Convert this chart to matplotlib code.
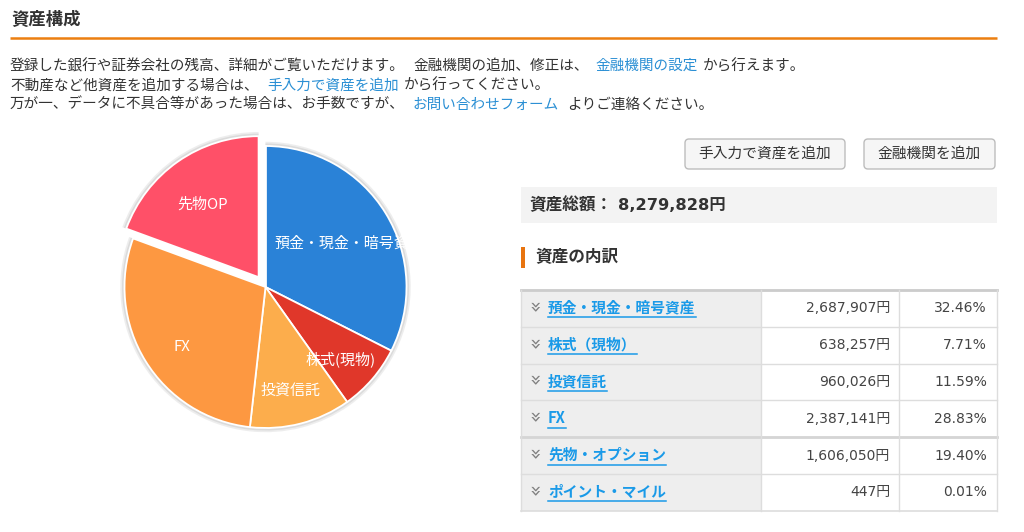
import matplotlib
matplotlib.use('Agg')
import matplotlib.pyplot as plt
from matplotlib.patches import Rectangle, FancyBboxPatch
import matplotlib.transforms as mtransforms

plt.rcParams['font.family'] = ['Noto Sans CJK JP', 'DejaVu Sans']
NUMFONT = ['DejaVu Sans', 'Noto Sans CJK JP']

# ---------------- data ----------------
title = '資産構成'
categories = ['預金・現金・暗号資産', '株式（現物）', '投資信託', 'FX', '先物・オプション', 'ポイント・マイル']
pie_labels = ['預金・現金・暗号資産', '株式(現物)', '投資信託', 'FX', '先物OP', '']
amounts = [2687907, 638257, 960026, 2387141, 1606050, 447]
slice_colors = ['#2a82d7', '#e0372a', '#fcad4c', '#fd9841', '#ff5068', '#9b59b6']
explode = [0, 0, 0, 0, 0.085, 0]
buttons = ['手入力で資産を追加', '金融機関を追加']
total_label = '資産総額：'
breakdown_title = '資産の内訳'
intro = [
    [('登録した銀行や証券会社の残高、詳細がご覧いただけます。', False, 10),
     ('金融機関の追加、修正は、', False, 413),
     ('金融機関の設定', True, 596),
     ('から行えます。', False, 703)],
    [('不動産など他資産を追加する場合は、', False, 10),
     ('手入力で資産を追加', True, 267),
     ('から行ってください。', False, 404)],
    [('万が一、データに不具合等があった場合は、お手数ですが、', False, 10),
     ('お問い合わせフォーム', True, 413),
     ('よりご連絡ください。', False, 567)],
]

total = sum(amounts)

W, H = 1024, 532
fig = plt.figure(figsize=(W / 100, H / 100), dpi=100)
fig.patch.set_facecolor('white')

bg = fig.add_axes([0, 0, 1, 1])
bg.set_xlim(0, W)
bg.set_ylim(H, 0)
bg.axis('off')

TXT = '#333333'
LINK = '#2a8fd4'

# title + orange rule
bg.text(11, 20, title, fontsize=12.5, fontweight='bold', color='#333333', va='center', ha='left')
bg.plot([10, 997], [37.5, 37.5], color='#ec7f10', lw=1.8, solid_capstyle='butt')

# intro lines
for i, line in enumerate(intro):
    y = 66 + i * 19.3
    for seg, is_link, x in line:
        bg.text(x, y, seg, fontsize=10.5, color=LINK if is_link else TXT, va='center', ha='left')

# buttons
btn_boxes = [(685, 139, 160, 30), (864, 139, 131, 30)]
for label, (x, y, w, h) in zip(buttons, btn_boxes):
    bg.add_patch(FancyBboxPatch((x, y), w, h, boxstyle='round,pad=0,rounding_size=4',
                                facecolor='#f6f6f6', edgecolor='#bdbdbd', lw=1))
    bg.text(x + w / 2, y + h / 2, label, fontsize=10.6, color='#333333', ha='center', va='center')

# total box
bg.add_patch(Rectangle((521, 187), 476, 36, facecolor='#f3f3f3', edgecolor='none'))
t_lab = bg.text(529, 205.5, total_label, fontsize=12, fontweight='bold', color='#333333',
                ha='left', va='center')
fig.canvas.draw()
renderer = fig.canvas.get_renderer()
inv = bg.transData.inverted()
ext = t_lab.get_window_extent(renderer)
xe, _ = inv.transform((ext.x1, ext.y0))
bg.text(xe + 6, 205.5, f'{total:,}円', fontsize=11.7, fontweight='bold', color='#333333',
        ha='left', va='center', family=NUMFONT)

# breakdown header
bg.add_patch(Rectangle((521, 247), 4, 20.5, facecolor='#e8740f', edgecolor='none'))
bg.text(535, 257, breakdown_title, fontsize=12, fontweight='bold', color='#333333',
        ha='left', va='center')

# table
x0, x1, x2, x3 = 521, 761, 899, 997
y0, rh = 290, 36.8
n = len(categories)
bg.add_patch(Rectangle((x0, y0), x1 - x0, rh * n, facecolor='#eeeeee', edgecolor='none'))
for i, (cat, amt) in enumerate(zip(categories, amounts)):
    yt = y0 + i * rh
    yc = yt + rh / 2
    bg.plot([x0, x3], [yt, yt], color='#dddddd', lw=1)
    bg.text(533, yc - 1.5, '»', rotation=-90, fontsize=14, color='#808080', ha='center', va='center',
            family=['DejaVu Sans'])
    t = bg.text(548, yc - 1, cat, fontsize=10.6, fontweight='bold', color='#1a9ae8', ha='left', va='center')
    ext = t.get_window_extent(renderer)
    xa, _ = inv.transform((ext.x0, ext.y0))
    xb, _ = inv.transform((ext.x1, ext.y0))
    bg.plot([xa, xb], [yc + 9, yc + 9], color='#1a9ae8', lw=1.1)
    bg.text(890, yc, f'{amt:,}円', fontsize=10, color='#444444', ha='right', va='center', family=NUMFONT)
    bg.text(987, yc, f'{amt / total * 100:.2f}%', fontsize=10, color='#444444', ha='right', va='center',
            family=NUMFONT)
bg.plot([x0, x3], [y0, y0], color='#cccccc', lw=2)
bg.plot([x0, x3], [y0 + rh * n, y0 + rh * n], color='#dddddd', lw=1.2)
bg.plot([x0, x3], [y0 + rh * 4, y0 + rh * 4], color='#d5d5d5', lw=2)
for xv in (x0, x1, x2, x3):
    bg.plot([xv, xv], [y0, y0 + rh * n], color='#dddddd', lw=1)

# ---------------- pie ----------------
R = 141.0
cx, cy = 265.5, 287.0
span = 2.5 * R
pie_ax = fig.add_axes([(cx - span / 2) / W, (H - cy - span / 2) / H, span / W, span / H])
pie_ax.set_xlim(-1.25, 1.25)
pie_ax.set_ylim(-1.25, 1.25)
pie_ax.set_aspect('equal')
pie_ax.axis('off')

# soft shadow
for r, a in [(1.03, 0.25), (1.018, 0.35)]:
    pie_ax.pie(amounts, radius=r, startangle=90, counterclock=False, explode=explode,
               colors=['#bbbbbb'] * n, wedgeprops=dict(linewidth=0, alpha=a))

wedges, texts = pie_ax.pie(amounts, labels=pie_labels, colors=slice_colors, startangle=90,
                           counterclock=False, explode=explode, labeldistance=0.7,
                           wedgeprops=dict(edgecolor='white', linewidth=1.3),
                           textprops=dict(color='white', fontsize=10.8, ha='center', va='center'))
shift = mtransforms.ScaledTranslation(0, -6 / 72, fig.dpi_scale_trans)
for w, t in zip(wedges, texts):
    t.set_ha('center')
    t.set_transform(t.get_transform() + shift)
    t.set_clip_path(w)
    t.set_clip_on(True)
pie_ax.set_xlim(-1.25, 1.25)
pie_ax.set_ylim(-1.25, 1.25)

fig.savefig('out.png', dpi=100, facecolor='white')
